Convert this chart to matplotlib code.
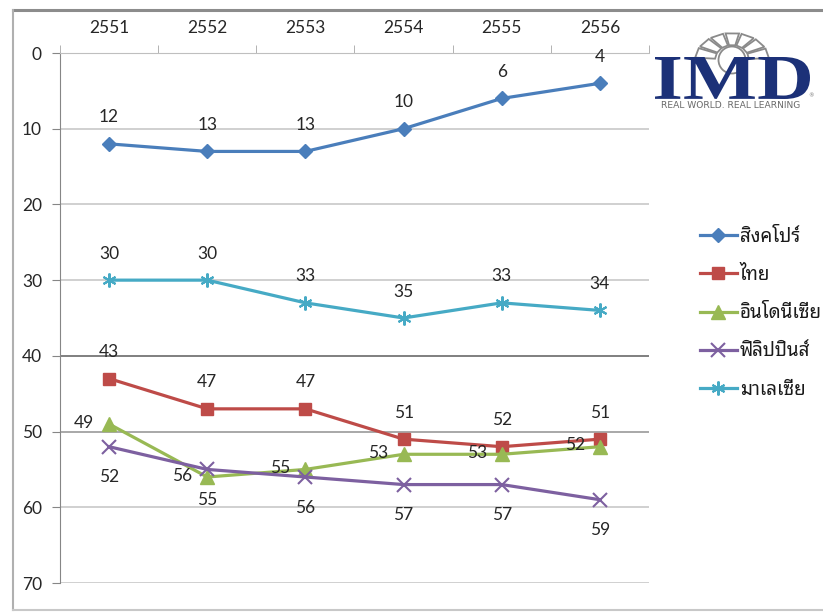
import numpy as np
import matplotlib
matplotlib.use("Agg")
import matplotlib.pyplot as plt
from matplotlib.lines import Line2D
from matplotlib.patches import Polygon, Ellipse, PathPatch
from matplotlib.textpath import TextPath
from matplotlib.font_manager import FontProperties
from matplotlib.transforms import Affine2D

years = ["2551", "2552", "2553", "2554", "2555", "2556"]
countries = ["สิงคโปร์", "ไทย", "อินโดนีเซีย", "ฟิลิปปินส์", "มาเลเซีย"]
singapore = [12, 13, 13, 10, 6, 4]
thailand = [43, 47, 47, 51, 52, 51]
indonesia = [49, 56, 55, 53, 53, 52]
philippines = [52, 55, 56, 57, 57, 59]
malaysia = [30, 30, 33, 35, 33, 34]
yticks = [0, 10, 20, 30, 40, 50, 60, 70]

W, H = 823, 612
num_font = ["Lato", "DejaVu Sans"]
thai_font = ["Noto Sans Thai Looped", "DejaVu Sans"]
txt_color = "#262626"
num_size = 12.5

# colour, marker, marker size, where the value label sits
styles = [
    ("#4A7EBB", "D", 6.8, "above"),
    ("#BE4B48", "s", 9, "above"),
    ("#98B954", "^", 9.5, "left"),
    ("#7D60A0", "x", 9.5, "below"),
    ("#46AAC5", (6, 2, 0), 10, "above"),
]
series = [singapore, thailand, indonesia, philippines, malaysia]
offsets = {"above": (0, 19), "left": (-18, 1), "below": (0, -22)}

fig = plt.figure(figsize=(W / 100, H / 100), dpi=100)
ax = fig.add_axes([60 / W, 1 - 583 / H, 589 / W, 530 / H])

x = np.arange(len(years))
handles = []
for vals, (col, mk, ms, pos) in zip(series, styles):
    mew = 1.5 if mk == "x" or isinstance(mk, tuple) else 1
    ln, = ax.plot(x, vals, color=col, lw=2.3, marker=mk, ms=ms,
                  mec=col, mfc=col, mew=mew, zorder=3)
    handles.append(ln)
    dx, dy = offsets[pos]
    for xi, v in zip(x, vals):
        ax.annotate(str(v), (xi, v), xytext=(dx, dy), textcoords="offset points",
                    ha="center", va="center", fontsize=num_size, family=num_font,
                    color=txt_color, zorder=4)

ax.set_xlim(-0.5, len(years) - 0.5)
ax.set_ylim(70, 0)
ax.set_yticks(yticks)
ax.set_xticks(x)
ax.set_xticklabels(years)
ax.set_xticks(np.arange(-0.5, len(years)), minor=True)
ax.xaxis.tick_top()
ax.tick_params(axis="x", which="major", length=0, pad=12, labelsize=num_size,
               labelcolor=txt_color)
ax.tick_params(axis="x", which="minor", length=6, color="#A6A6A6", direction="out")
ax.tick_params(axis="y", length=6, color="#868686", pad=7, labelsize=num_size,
               labelcolor=txt_color)
for lab in ax.get_xticklabels() + ax.get_yticklabels():
    lab.set_family(num_font)

for s in ["right", "bottom"]:
    ax.spines[s].set_visible(False)
ax.spines["left"].set_color("#868686")
ax.spines["top"].set_color("#BFBFBF")
ax.yaxis.grid(True, color="#C8C8C8", lw=1.2)
grid = ax.get_ygridlines()
grid[4].set_color("#7F7F7F")
grid[4].set_linewidth(1.4)
grid[5].set_color("#9A9A9A")
ax.set_axisbelow(True)

leg = fig.legend(handles, countries, loc="upper left",
                 bbox_to_anchor=(692 / W, 1 - 220 / H), frameon=False,
                 prop={"family": thai_font, "size": 13.5}, handlelength=2.0,
                 handletextpad=0.15, labelspacing=1.08, borderaxespad=0)
for t in leg.get_texts():
    t.set_color("#1a1a1a")

# outer chart border
fig.add_artist(Line2D([13 / W, 1], [1 - 10 / H] * 2, color="#8C8C8C", lw=2.2))
fig.add_artist(Line2D([13 / W] * 2, [1 - 10 / H, 1 - 610 / H], color="#B0B0B0", lw=1.5))
fig.add_artist(Line2D([13 / W, 1], [1 - 610 / H] * 2, color="#C8C8C8", lw=1.5))

# IMD logo, drawn in pixel units
lg = fig.add_axes([645 / W, 1 - 115 / H, 178 / W, 95 / H])
lg.set_xlim(645, 823)
lg.set_ylim(115, 20)
lg.axis("off")
cx, cy = 732, 60
lg.add_patch(Ellipse((cx, cy), 27, 27, fill=False, ec="#8A8A8A", lw=1.3))
for a0 in np.linspace(4, 154, 7):
    t0, t1 = np.radians(a0), np.radians(a0 + 21)
    pts = [(cx + 17 * np.cos(t0), cy - 15 * np.sin(t0)),
           (cx + 37 * np.cos(t0), cy - 27 * np.sin(t0)),
           (cx + 37 * np.cos(t1), cy - 27 * np.sin(t1)),
           (cx + 17 * np.cos(t1), cy - 15 * np.sin(t1))]
    lg.add_patch(Polygon(pts, closed=True, fill=False, ec="#8A8A8A", lw=1.3))
tp = TextPath((0, 0), "IMD", size=50,
              prop=FontProperties(family="Liberation Serif", weight="bold"))
ext = tp.get_extents()
sx = 155 / ext.width
sy = 42 / ext.height
tr = Affine2D().translate(-ext.x0, -ext.y0).scale(sx, -sy).translate(655, 99)
lg.add_patch(PathPatch(tr.transform_path(tp), fc="#1C3178", ec="none", zorder=5))
lg.text(731, 105.5, "REAL WORLD. REAL LEARNING", ha="center", va="center",
        fontsize=6.6, family="DejaVu Sans", color="#6A6A6A")
lg.text(811, 96, "®", ha="center", va="center", fontsize=4, color="#707070")

fig.savefig("out.png", dpi=100)
